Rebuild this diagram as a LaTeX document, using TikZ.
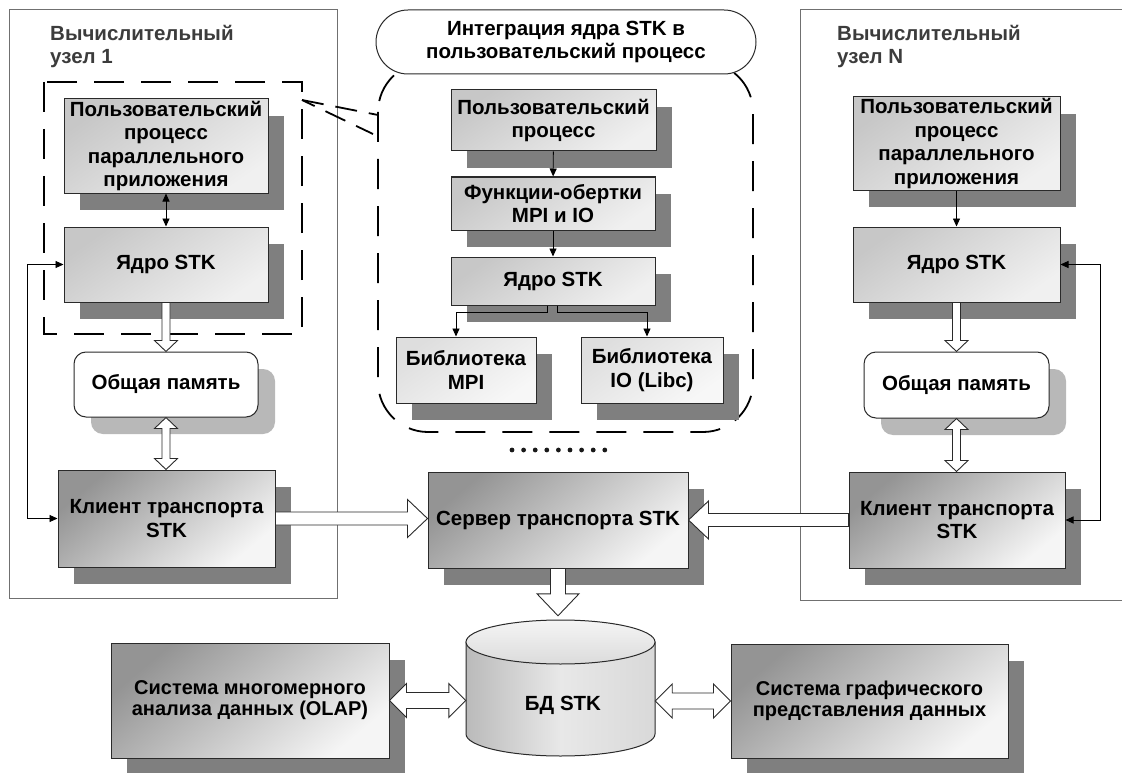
\documentclass[tikz,border=0pt]{standalone}
\usepackage{fontspec}
\setmainfont{Liberation Sans}
\usetikzlibrary{shadows,calc,arrows.meta}
\definecolor{shd}{HTML}{7F7F7F}
\definecolor{shl}{HTML}{B8B8B8}
\definecolor{frm}{HTML}{707070}
\definecolor{ttl}{HTML}{3C3C3C}
\definecolor{edge}{HTML}{2A2A2A}
\newcommand\HArrowS[5]{%
  \coordinate (hA) at (#1); \coordinate (hB) at (#2);
  \coordinate (hH) at ($(hB)!#5!(hA)$);
  \draw[harrow] ($(hA)!#3!90:(hB)$) -- ($(hH)!#3!90:(hB)$) -- ($(hH)!#4!90:(hB)$) -- (hB)
    -- ($(hH)!#4!-90:(hB)$) -- ($(hH)!#3!-90:(hB)$) -- ($(hA)!#3!-90:(hB)$) -- cycle;
}
\newcommand\HArrowD[5]{%
  \coordinate (hA) at (#1); \coordinate (hB) at (#2);
  \coordinate (hHa) at ($(hA)!#5!(hB)$);
  \coordinate (hHb) at ($(hB)!#5!(hA)$);
  \draw[harrow] (hA) -- ($(hHa)!#4!90:(hB)$) -- ($(hHa)!#3!90:(hB)$) -- ($(hHb)!#3!90:(hB)$)
    -- ($(hHb)!#4!90:(hB)$) -- (hB) -- ($(hHb)!#4!-90:(hB)$) -- ($(hHb)!#3!-90:(hB)$)
    -- ($(hHa)!#3!-90:(hB)$) -- ($(hHa)!#4!-90:(hB)$) -- cycle;
}
\tikzset{
  txt/.style={font=\fontsize{20.5}{23.5}\selectfont\bfseries},
  bfont/.style={font=\fontsize{20}{21}\selectfont\bfseries},
  box/.style={txt, draw=edge, line width=1pt, inner sep=0pt, align=center,
    drop shadow={shadow xshift=16pt, shadow yshift=-17pt, fill=shd, opacity=1}},
  lbox/.style={box, top color=black!22, bottom color=black!6, shading angle=35},
  pbox/.style={box, top color=black!13, bottom color=black!3, shading angle=35},
  dbox/.style={box, top color=black!42, bottom color=black!4, shading angle=40},
  mbox/.style={txt, draw=edge, line width=1pt, inner sep=0pt, align=center, fill=white,
    rounded corners=12pt,
    drop shadow={shadow xshift=17pt, shadow yshift=-17pt, fill=shl, opacity=1}},
  frame/.style={draw=frm, line width=1pt},
  dashbox/.style={draw=black, line width=1.8pt, dash pattern=on 30pt off 17pt},
  ttlstyle/.style={txt, text=ttl, align=left, inner sep=0pt, anchor=north west},
  harrow/.style={draw=edge, line width=0.9pt, fill=white, line join=miter},
  thin/.style={draw=black, line width=0.9pt, -{Triangle[length=8pt,width=7pt]}},
  thinboth/.style={draw=black, line width=0.9pt, {Triangle[length=8pt,width=7pt]}-{Triangle[length=8pt,width=7pt]}},
}
\begin{document}
\begin{tikzpicture}[x=1pt,y=-1pt]
\useasboundingbox (0,0) rectangle (1122,773);
\fill[white] (0,0) rectangle (1122,773);

% frames of the computing nodes
\draw[frame] (9,10) rectangle (337,598);
\draw[frame] (800,10) rectangle (1135,600);
\node[ttlstyle] (t1) at (50,25) {Вычислительный\\узел 1};
\node[ttlstyle] (tN) at (837,25) {Вычислительный\\узел N};

% dashed integration region
\draw[dashbox, rounded corners=50pt] (378,62) rectangle (753,432);
\node[txt, draw=edge, line width=1pt, fill=white, rounded corners=32pt, align=center,
  minimum width=380pt, minimum height=64pt, inner sep=0pt] (hdr) at (566,42)
  {Интеграция ядра STK в\\пользовательский процесс};

% left node
\node[lbox, minimum width=204pt, minimum height=94pt] (up1) at (166,146) {Пользовательский\\процесс\\параллельного\\приложения};
\node[lbox, minimum width=204pt, minimum height=75pt] (core1) at (166,264.5) {Ядро STK};
\node[mbox, minimum width=184pt, minimum height=65pt] (mem1) at (166,384.5) {Общая память};
\node[dbox, minimum width=217pt, minimum height=97pt] (cl1) at (166.5,518.5) {Клиент транспорта\\STK};
\draw[dashbox] (44,82) rectangle (302,334);
\coordinate (zc) at (302,100);
\coordinate (z1) at (378,115);
\coordinate (z2) at (373,134);
\draw[dashbox, dash pattern=on 22pt off 12pt] (zc) -- (z1);
\draw[dashbox, dash pattern=on 22pt off 12pt, dash phase=8pt] (zc) -- (z2);

% right node
\node[lbox, minimum width=207pt, minimum height=93pt] (upN) at (956.5,143.5) {Пользовательский\\процесс\\параллельного\\приложения};
\node[lbox, minimum width=207pt, minimum height=75pt] (coreN) at (956.5,264.5) {Ядро STK};
\node[mbox, minimum width=185pt, minimum height=66pt] (memN) at (956.5,385) {Общая память};
\node[dbox, minimum width=216pt, minimum height=96pt] (clN) at (957,520) {Клиент транспорта\\STK};

% central stack
\node[lbox, minimum width=205pt, minimum height=61pt] (cup) at (553.5,120.5) {Пользовательский\\процесс};
\node[lbox, minimum width=204pt, minimum height=53pt] (wrap) at (553,203.5) {Функции-обертки\\MPI и IO};
\node[lbox, minimum width=204pt, minimum height=48pt] (core) at (553,281) {Ядро STK};
\node[pbox, minimum width=140pt, minimum height=66pt] (mpi) at (466,370) {Библиотека\\MPI};
\node[pbox, minimum width=142pt, minimum height=66pt] (io) at (652,370) {Библиотека\\IO (Libc)};

\foreach \i in {0,...,8} \fill[black!90] (512+\i*11.6,450) circle[radius=2.4pt];

\node[dbox, minimum width=260pt, minimum height=96pt] (srv) at (558,520) {Сервер транспорта STK};

% database cylinder
\shade[left color=black!27, right color=black!15, middle color=black!9, draw=edge, line width=1pt]
  (466,642) -- (466,734) arc[start angle=180, end angle=360, x radius=94.5pt, y radius=22pt]
  -- (655,642) -- cycle;
\shade[top color=black!4, bottom color=black!14, draw=edge, line width=1pt]
  (560.5,642) ellipse[x radius=94.5pt, y radius=22pt];
\node[minimum width=189pt, minimum height=136pt, inner sep=0pt] (db) at (560.5,688) {};
\node[txt] (dbt) at (563,705) {БД STK};

% bottom systems
\node[dbox, bfont, minimum width=278pt, minimum height=115pt] (olap) at (250,700.5) {Система многомерного\\анализа данных (OLAP)};
\node[dbox, bfont, minimum width=277pt, minimum height=114pt] (graph) at (869.5,701) {Система графического\\представления данных};

% thin connectors
\draw[thinboth] (up1) -- (core1);
\draw[thin] (upN) -- (coreN);
\draw[thin] (cup) -- (wrap);
\draw[thin] (wrap) -- (core);
\draw[thin] ([xshift=-6pt]core.south) -- ++(0,7) -| ([xshift=-10pt]mpi.north);
\draw[thin] ([xshift=4pt]core.south) -- ++(0,7) -| ([xshift=-5pt]io.north);
\coordinate (fbl) at (27,0);
\coordinate (fbr) at (1100,0);
\draw[thinboth] (cl1.west) -- (cl1.west -| fbl) |- (core1.west);
\draw[thinboth] (clN.east) -- (clN.east -| fbr) |- (coreN.east);

% hollow connectors
\HArrowS{core1.south}{mem1.north}{4pt}{11.5pt}{11pt}
\HArrowD{mem1.south}{mem1.south |- cl1.north}{4pt}{11.5pt}{11pt}
\HArrowS{coreN.south}{memN.north}{4pt}{11.5pt}{11pt}
\HArrowD{memN.south}{memN.south |- clN.north}{4pt}{11.5pt}{11pt}
\HArrowS{cl1.east}{cl1.east -| srv.west}{6.5pt}{19pt}{20pt}
\HArrowS{clN.west}{srv.east}{6.5pt}{19pt}{20pt}
\coordinate (dbtip) at ($(srv.south |- db.north)+(0,-4)$);
\HArrowS{srv.south}{dbtip}{7.5pt}{21pt}{22pt}
\HArrowD{olap.east}{olap.east -| db.west}{8pt}{17pt}{17pt}
\HArrowD{db.east |- graph.west}{graph.west}{8pt}{17pt}{17pt}
\end{tikzpicture}
\end{document}
